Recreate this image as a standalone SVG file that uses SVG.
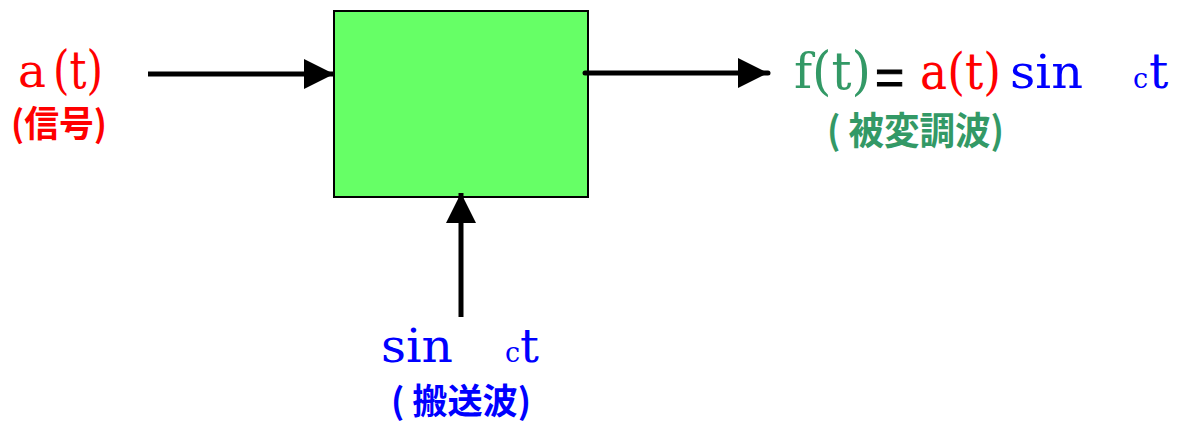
<svg xmlns="http://www.w3.org/2000/svg" width="1188" height="425" viewBox="0 0 1188 425">
<style>
.m{font-family:"DejaVu Serif","Liberation Serif",serif;}
.e{font-family:"Liberation Sans",sans-serif;}
.c{font-family:"Noto Sans CJK JP","Liberation Sans",sans-serif;font-weight:bold;}
.r{fill:#ff0000}.g{fill:#339966}.b{fill:#0000ff}.k{fill:#000}
.ln{stroke:#000;stroke-width:5;fill:none;}
</style>
<defs>
<marker id="ah" markerUnits="userSpaceOnUse" markerWidth="32" markerHeight="32" refX="30" refY="15" orient="auto">
<path d="M0,0 L30,15 L0,30 Z" fill="#000"/>
</marker>
</defs>
<g id="block">
<rect x="334" y="11" width="254" height="186" fill="#66ff66" stroke="#000" stroke-width="2"/>
</g>
<g id="connectors">
<line class="ln" x1="148" y1="74" x2="334" y2="74" marker-end="url(#ah)"/>
<line class="ln" x1="585" y1="73" x2="768" y2="73" stroke-linecap="round" marker-end="url(#ah)"/>
<line class="ln" x1="461" y1="317" x2="461" y2="193" marker-end="url(#ah)"/>
</g>
<g id="input">
<text class="m r" x="18" y="87" font-size="47">a</text>
<text class="m r" x="53" y="88" font-size="52" textLength="50" lengthAdjust="spacingAndGlyphs">(t)</text>
<text class="c r" x="11" y="137" font-size="36" textLength="96" lengthAdjust="spacingAndGlyphs">(信号)</text>
</g>
<g id="output">
<text class="m g" x="794" y="88" font-size="49">f</text>
<text class="m g" x="812" y="89" font-size="52" textLength="59" lengthAdjust="spacingAndGlyphs">(t)</text>
<text class="e k" x="875" y="94" font-size="50" stroke="#000" stroke-width="1">=</text>
<text class="m r" x="920" y="89" font-size="50" textLength="81" lengthAdjust="spacingAndGlyphs">a(t)</text>
<text class="m b" x="1010" y="88" font-size="47" textLength="73" lengthAdjust="spacingAndGlyphs">sin</text>
<text class="m b" x="1133" y="88" font-size="27">c</text>
<text class="m b" x="1149" y="88" font-size="48">t</text>
<text class="c g" x="827" y="144" font-size="38" textLength="177" lengthAdjust="spacingAndGlyphs">( 被変調波)</text>
</g>
<g id="carrier">
<text class="m b" x="381" y="362" font-size="46" textLength="72" lengthAdjust="spacingAndGlyphs">sin</text>
<text class="m b" x="505" y="362" font-size="27">c</text>
<text class="m b" x="520" y="362" font-size="47">t</text>
<text class="c b" x="391" y="414" font-size="35" textLength="140" lengthAdjust="spacingAndGlyphs">( 搬送波)</text>
</g>
</svg>
